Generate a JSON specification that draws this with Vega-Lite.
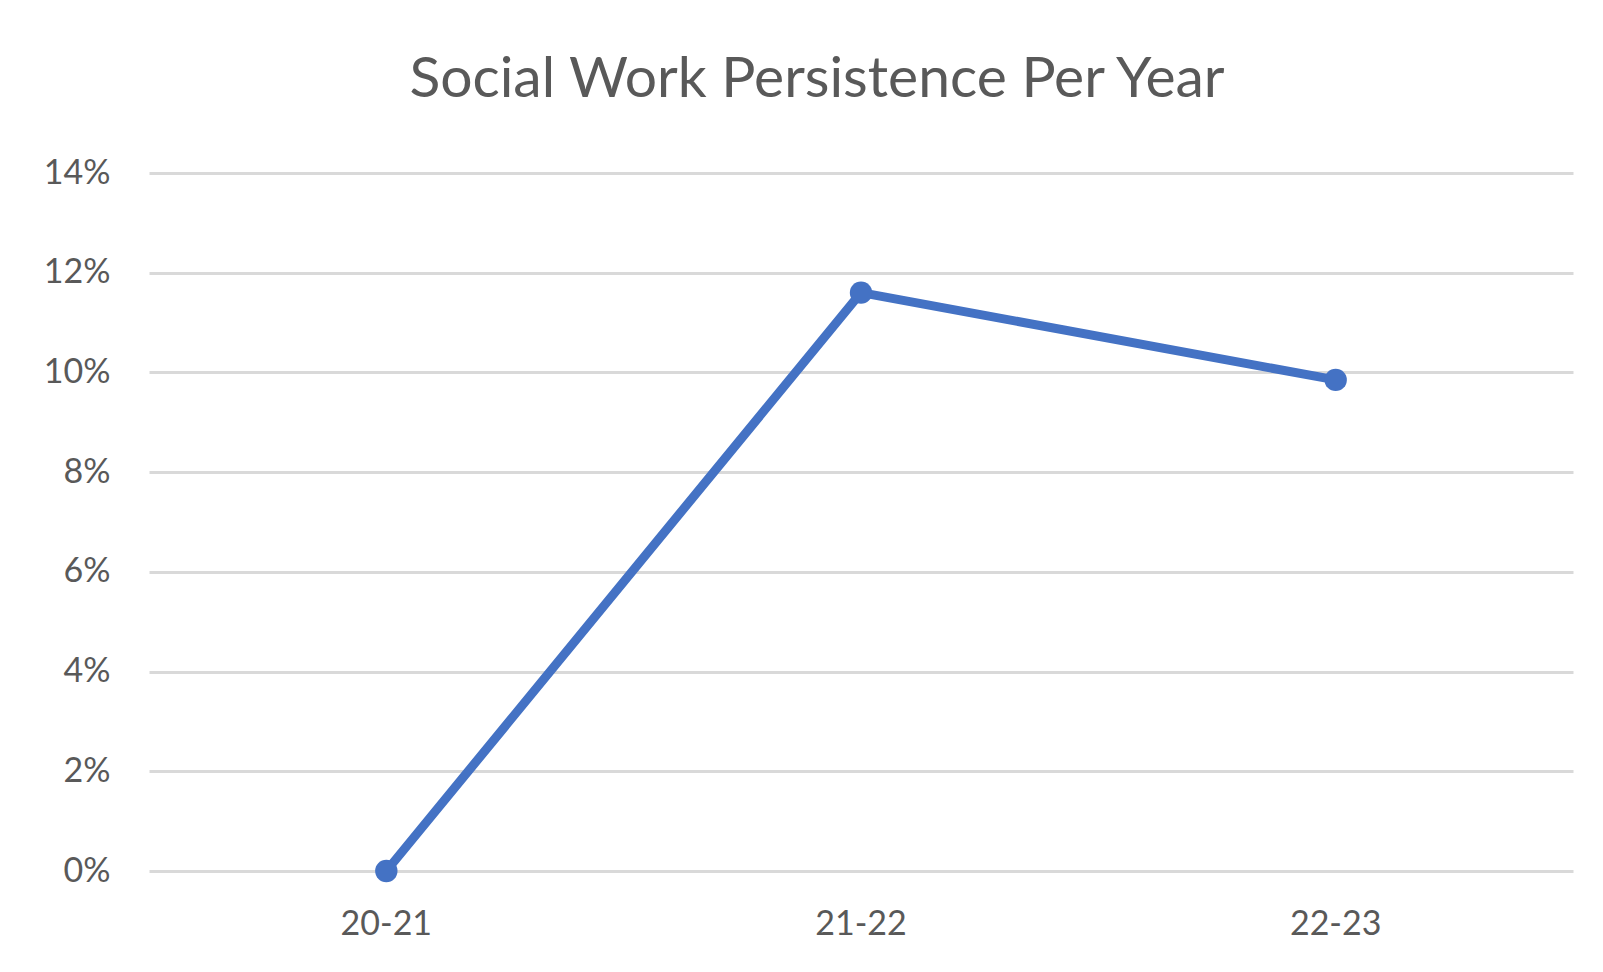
{
  "$schema": "https://vega.github.io/schema/vega-lite/v6.json",
  "autosize": "none",
  "width": 1424,
  "height": 698,
  "padding": {"left": 149, "top": 173, "right": 30, "bottom": 101},
  "background": "white",
  "title": {
    "text": "Social Work Persistence Per Year",
    "font": "Lato",
    "fontSize": 57,
    "fontWeight": "normal",
    "color": "#595959",
    "anchor": "middle",
    "dx": -44,
    "offset": 47
  },
  "config": {
    "view": {"stroke": null},
    "font": "Lato"
  },
  "data": {
    "values": [
      {"year": "20-21", "rate": 0.0},
      {"year": "21-22", "rate": 0.116},
      {"year": "22-23", "rate": 0.0985}
    ]
  },
  "encoding": {
    "x": {
      "field": "year",
      "type": "nominal",
      "sort": null,
      "scale": {"type": "band", "paddingInner": 0, "paddingOuter": 0},
      "axis": {
        "title": null,
        "labelAngle": 0,
        "labelFont": "Lato",
        "labelFontSize": 34,
        "labelColor": "#595959",
        "labelPadding": 36,
        "ticks": false,
        "domain": false,
        "grid": false
      }
    },
    "y": {
      "field": "rate",
      "type": "quantitative",
      "scale": {"domain": [0, 0.14], "nice": false},
      "axis": {
        "title": null,
        "format": ".0%",
        "values": [0, 0.02, 0.04, 0.06, 0.08, 0.1, 0.12, 0.14],
        "labelFont": "Lato",
        "labelFontSize": 34,
        "labelColor": "#595959",
        "labelPadding": 39,
        "ticks": false,
        "domain": false,
        "grid": true,
        "gridColor": "#d9d9d9",
        "gridWidth": 3
      }
    }
  },
  "layer": [
    {
      "mark": {"type": "line", "color": "#4472C4", "strokeWidth": 9}
    },
    {
      "mark": {"type": "point", "filled": true, "opacity": 1, "color": "#4472C4", "size": 500, "shape": "circle"}
    }
  ]
}
